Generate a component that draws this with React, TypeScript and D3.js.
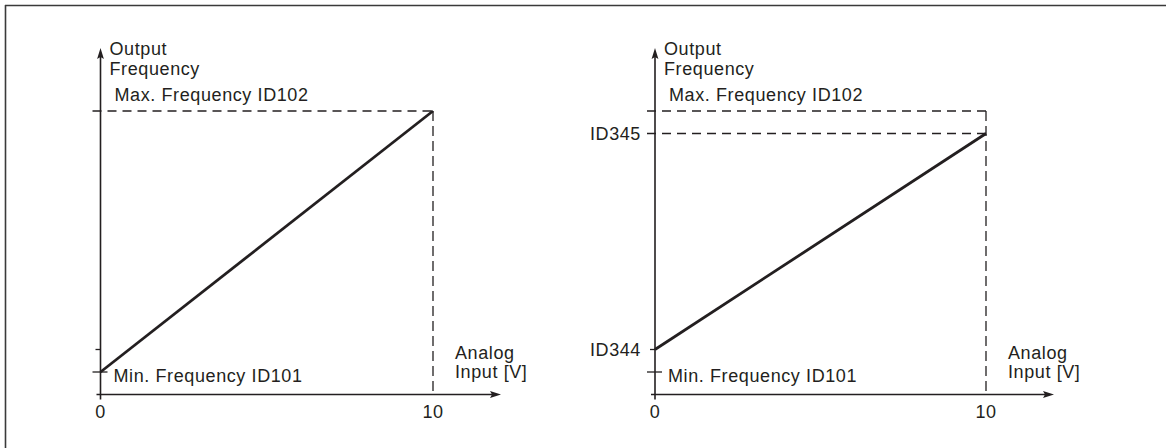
import React from "react";
import * as d3 from "d3";

// ---- data ----
const xTicks = [0, 10];
const xDomain = [0, 10];
const minFreq = 5;
const id344 = 10;
const id345 = 58;
const maxFreq = 63;
const yTop = 77;
const leftLine: [number, number][] = [[0, minFreq], [10, maxFreq]];
const rightLine: [number, number][] = [[0, id344], [10, id345]];
const xAxisLabel = ["Analog", "Input [V]"];
const yAxisLabel = ["Output", "Frequency"];
const maxLabel = "Max. Frequency ID102";
const minLabel = "Min. Frequency ID101";
const id344Label = "ID344";
const id345Label = "ID345";

const INK = "#231f20";
const FONT = "'Liberation Sans', Arial, Helvetica, sans-serif";
const FS = 18;
const LS = 0.6;

function Panel({ x0, x10, showLevels }: { x0: number; x10: number; showLevels: boolean }) {
  const x = d3.scaleLinear().domain(xDomain).range([x0, x10]);
  const y = d3.scaleLinear().domain([0, minFreq]).range([394.5, 372]);
  const line = d3.line<[number, number]>().x((d) => x(d[0])).y((d) => y(d[1]));
  const ax = x(0);
  const ay = y(0);
  const tipY = y(yTop);
  const tipX = x(10) + 68;
  const data = showLevels ? rightLine : leftLine;
  const dash = "9 6";
  return (
    <g>
      {/* y axis */}
      <line x1={ax} x2={ax} y1={ay + 5} y2={tipY + 6} stroke={INK} strokeWidth={1.6} />
      <path d={`M${ax},${tipY} L${ax + 3.4},${tipY + 11} L${ax},${tipY + 9} L${ax - 3.4},${tipY + 11} Z`} fill={INK} />
      {/* x axis */}
      <line x1={ax - 4} x2={tipX - 6} y1={ay} y2={ay} stroke={INK} strokeWidth={1.6} />
      <path d={`M${tipX},${ay} L${tipX - 11},${ay - 3.4} L${tipX - 9},${ay} L${tipX - 11},${ay + 3.4} Z`} fill={INK} />
      {/* max dashed */}
      <line x1={ax - 8} x2={x(10)} y1={y(maxFreq)} y2={y(maxFreq)} stroke={INK} strokeWidth={1.3} strokeDasharray={dash} />
      {showLevels && (
        <line x1={ax - 8} x2={x(10)} y1={y(id345)} y2={y(id345)} stroke={INK} strokeWidth={1.3} strokeDasharray={dash} />
      )}
      {/* vertical dashed at 10 */}
      <line
        x1={x(10)}
        x2={x(10)}
        y1={y(maxFreq)}
        y2={ay}
        stroke={INK}
        strokeWidth={1.3}
        strokeDasharray="10 5"
      />
      {/* ticks */}
      <line x1={ax - 5} x2={ax} y1={y(id344)} y2={y(id344)} stroke={INK} strokeWidth={1.3} />
      <line x1={ax - 8} x2={ax + 7} y1={y(minFreq)} y2={y(minFreq)} stroke={INK} strokeWidth={1.3} />
      {/* x ticks */}
      {xTicks.map((t) => (
        <text key={t} x={x(t)} y={418} textAnchor="middle" fontFamily={FONT} fontSize={FS} fill={INK} letterSpacing={LS}>
          {t}
        </text>
      ))}
      {/* main line */}
      <path d={line(data) || ""} fill="none" stroke={INK} strokeWidth={2.8} />
      {/* labels */}
      <g fontFamily={FONT} fontSize={FS} fill={INK} letterSpacing={LS}>
        <text x={ax + 9} y={55}>{yAxisLabel[0]}</text>
        <text x={ax + 9} y={75}>{yAxisLabel[1]}</text>
        <text x={ax + 14} y={101}>{maxLabel}</text>
        <text x={ax + 13} y={382}>{minLabel}</text>
        <text x={x(10) + 22} y={359}>{xAxisLabel[0]}</text>
        <text x={x(10) + 22} y={378}>{xAxisLabel[1]}</text>
        {showLevels && (
          <>
            <text x={ax - 14} y={y(id345) + 6.5} textAnchor="end">{id345Label}</text>
            <text x={ax - 14} y={y(id344) + 6.5} textAnchor="end">{id344Label}</text>
          </>
        )}
      </g>
    </g>
  );
}

export default function App() {
  return (
    <svg
      width={1166}
      height={448}
      style={{ position: "absolute", left: 0, top: 0, background: "#fff" }}
    >
      <line x1={5} x2={1166} y1={5.5} y2={5.5} stroke="#3a3a3a" strokeWidth={1.6} />
      <line x1={5.5} x2={5.5} y1={5} y2={448} stroke="#3a3a3a" strokeWidth={1.6} />
      <Panel x0={100.5} x10={433} showLevels={false} />
      <Panel x0={655} x10={986} showLevels={true} />
    </svg>
  );
}
